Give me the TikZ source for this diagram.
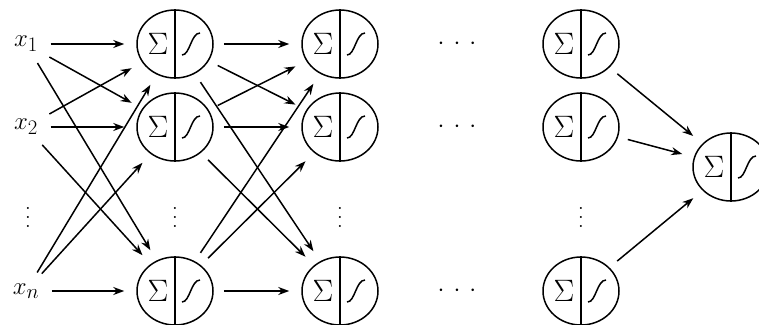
\documentclass[tikz,border=0pt]{standalone}
\usepackage{graphicx}
\usetikzlibrary{shapes.geometric,arrows.meta}
\newcommand\nrnparts[1]{%
  \draw (#1.north) -- (#1.south);
  \node[font=\Huge,inner sep=0pt] (#1sig) at ([xshift=-17bp]#1.center) {\scalebox{1.25}{$\Sigma$}};
  \draw ([xshift=7bp,yshift=-11bp]#1.center) .. controls ([xshift=15bp,yshift=-11bp]#1.center) and ([xshift=16bp,yshift=11bp]#1.center) .. ([xshift=25bp,yshift=11bp]#1.center);
}
\newcommand\myvdots{\vbox{\baselineskip=9bp\lineskiplimit=0pt\hbox{.}\hbox{.}\hbox{.}}}
\newcommand\mycdots{$\cdot$\hspace{9bp}$\cdot$\hspace{9bp}$\cdot$}
\begin{document}
\begin{tikzpicture}[x=1bp,y=-1bp,line width=1.5bp,
  neuron/.style={draw,ellipse,minimum width=76bp,minimum height=68bp,inner sep=0pt},
  lbl/.style={inner sep=2bp,font=\Huge},
  dts/.style={inner sep=0pt,font=\Huge},
  con/.style={-{Stealth[length=11bp,width=8bp]},shorten <=10bp,shorten >=12bp}]
\useasboundingbox (0,0) rectangle (759,324);
% inputs
\node[lbl] (x1) at (26,44) {$x_1$};
\node[lbl] (x2) at (26,127) {$x_2$};
\node[dts] (xd) at (28,217) {\myvdots};
\node[lbl] (xn) at (26,291) {$x_n$};
% layer 1
\node[neuron] (a1) at (175,44) {};
\node[neuron] (a2) at (175,127) {};
\node[dts] (ad) at (175,217) {\myvdots};
\node[neuron] (an) at (175,291) {};
% layer 2
\node[neuron] (b1) at (340,44) {};
\node[neuron] (b2) at (340,127) {};
\node[dts] (bd) at (340,217) {\myvdots};
\node[neuron] (bn) at (340,291) {};
% dots
\node[dts] (c1) at (457,44) {\mycdots};
\node[dts] (c2) at (457,127) {\mycdots};
\node[dts] (cn) at (457,291) {\mycdots};
% last hidden layer
\node[neuron] (d1) at (581,44) {};
\node[neuron] (d2) at (581,127) {};
\node[dts] (dd) at (581,217) {\myvdots};
\node[neuron] (dn) at (581,291) {};
% output
\node[neuron] (o) at (731,167) {};
\foreach \n in {a1,a2,an,b1,b2,bn,d1,d2,dn,o}{\nrnparts{\n}}
\foreach \s in {x1,x2,xn}{\foreach \t in {a1,a2,an}{\draw[con] (\s) -- (\t);}}
\foreach \s in {a1,a2,an}{\foreach \t in {b1,b2,bn}{\draw[con] (\s) -- (\t);}}
\foreach \s in {d1,d2,dn}{\draw[con] (\s) -- (o);}
\end{tikzpicture}
\end{document}
